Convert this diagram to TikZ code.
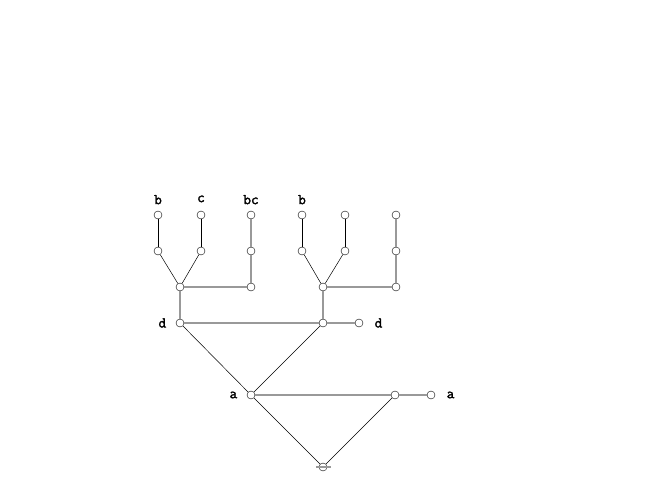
\documentclass[tikz,border=0pt]{standalone}
\usepackage{fontspec}
\newfontfamily\lblfont{Latin Modern Mono}[FakeBold=2]
\begin{document}
\begin{tikzpicture}[x=1bp,y=-1bp]
        \useasboundingbox (0,0) rectangle (648,504);
        \begin{scope}[every node/.style={circle,draw,thin,fill=white,inner sep=0pt,minimum size=8bp}]
            % left tree
            \node (b1) at (158,215) {};
            \node (b2) at (158,251) {};
            \node (c1) at (201,215) {};
            \node (c2) at (201,251) {};
            \node (e1) at (251,215) {};
            \node (e2) at (251,251) {};
            \node (e3) at (251,287) {};
            \node (j1) at (180,287) {};
            \node (d1) at (180,323) {};
            % right tree
            \node (f1) at (302,215) {};
            \node (f2) at (302,251) {};
            \node (g1) at (345,215) {};
            \node (g2) at (345,251) {};
            \node (h1) at (396,215) {};
            \node (h2) at (396,251) {};
            \node (h3) at (396,287) {};
            \node (j2) at (323,287) {};
            \node (d2) at (323,323) {};
            \node (d3) at (359,323) {};
            % bottom
            \node (a1) at (251,395) {};
            \node (a2) at (395,395) {};
            \node (a3) at (431,395) {};
            \node (r) at (323,467) {};
        \end{scope}
        \coordinate (rl) at (316,467);
        \coordinate (rr) at (331,467);
        \begin{scope}[every edge/.style={draw=black,line width=0.5bp}]
            \path (b1) edge (b2)
                  (c1) edge (c2)
                  (b2) edge (j1)
                  (c2) edge (j1)
                  (f1) edge (f2)
                  (g1) edge (g2)
                  (f2) edge (j2)
                  (g2) edge (j2)
                  (d1) edge (a1)
                  (d2) edge (a1)
                  (a1) edge (r)
                  (a2) edge (r);
        \end{scope}
        \begin{scope}[every edge/.style={draw=black!40,line width=2bp}]
            \path (e1) edge (e2)
                  (e2) edge (e3)
                  (j1) edge (e3)
                  (j1) edge (d1)
                  (h1) edge (h2)
                  (h2) edge (h3)
                  (j2) edge (h3)
                  (j2) edge (d2)
                  (d1) edge (d2)
                  (d2) edge (d3)
                  (a1) edge (a2)
                  (a2) edge (a3)
                  (rl) edge (rr);
        \end{scope}
        \begin{scope}[every node/.style={font=\lblfont\fontsize{15}{15}\selectfont}]
            \node[above=3bp] at (b1.north) {b};
            \node[above=5bp] at (c1.north) {c};
            \node[above=3bp] at (e1.north) {bc};
            \node[above=3bp] at (f1.north) {b};
            \node[left=6bp] at (d1.west) {d};
            \node[right=8bp] at (d3.east) {d};
            \node[left=6bp] at (a1.west) {a};
            \node[right=8bp] at (a3.east) {a};
        \end{scope}
    \end{tikzpicture}
\end{document}
